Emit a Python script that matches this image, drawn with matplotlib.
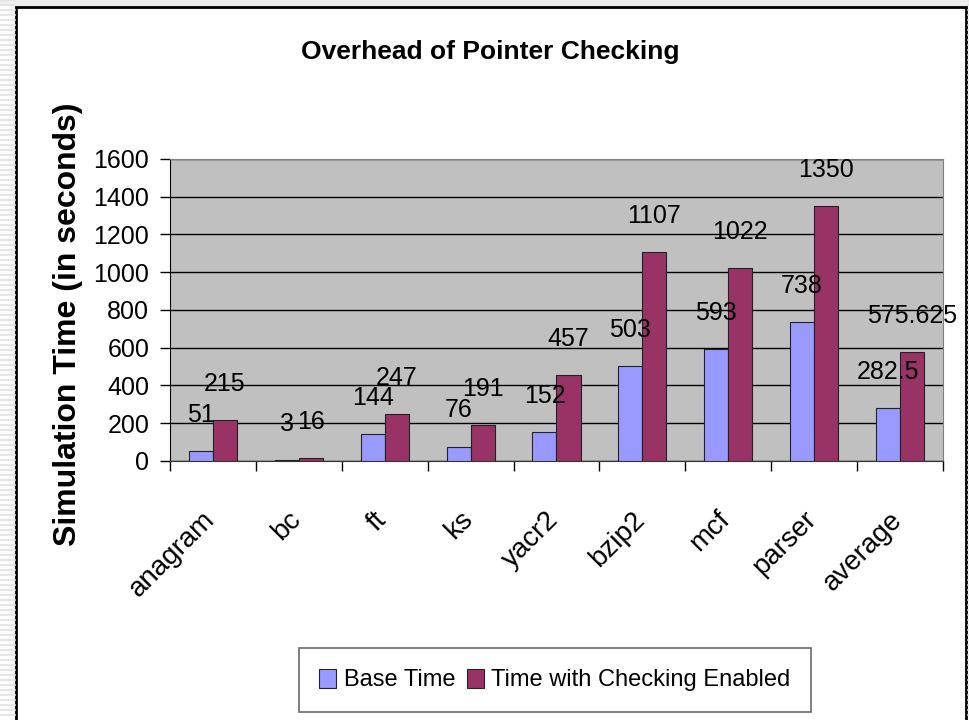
import numpy as np
import matplotlib
matplotlib.use("Agg")
import matplotlib.pyplot as plt
from matplotlib.lines import Line2D
from matplotlib.patches import Rectangle, Patch
from matplotlib.transforms import ScaledTranslation

categories = ["anagram", "bc", "ft", "ks", "yacr2", "bzip2", "mcf", "parser", "average"]
base_time = [51, 3, 144, 76, 152, 503, 593, 738, 282.5]
check_time = [215, 16, 247, 191, 457, 1107, 1022, 1350, 575.625]
base_labels = ["51", "3", "144", "76", "152", "503", "593", "738", "282.5"]
check_labels = ["215", "16", "247", "191", "457", "1107", "1022", "1350", "575.625"]
y_ticks = [0, 200, 400, 600, 800, 1000, 1200, 1400, 1600]

plt.rcParams["font.family"] = ["Liberation Sans", "DejaVu Sans"]

W, H = 970, 720
fig = plt.figure(figsize=(W / 100, H / 100), dpi=100)
fig.patch.set_facecolor("white")

# slide decoration: striped edges and black frame
for yy in np.arange(0, H, 5):
    fig.add_artist(Line2D([0, 15 / W], [1 - yy / H, 1 - yy / H], color="#e2e2e2", lw=1.2))
    fig.add_artist(Line2D([968 / W, 1], [1 - yy / H, 1 - yy / H], color="#e2e2e2", lw=1.2))
fig.add_artist(Rectangle((0, 1 - 6 / H), 1, 6 / H, transform=fig.transFigure,
                         facecolor="#eeeeee", edgecolor="none"))
fig.add_artist(Rectangle((16 / W, -0.01), (966 - 16) / W, 1.01 - 7 / H,
                         transform=fig.transFigure, facecolor="white",
                         edgecolor="black", lw=2, zorder=0.5))

ax = fig.add_axes([170 / W, 1 - 461 / H, (943 - 170) / W, (461 - 159) / H])
ax.set_facecolor("#c0c0c0")
ax.set_zorder(2)

x = np.arange(len(categories))
bw = 0.28
ax.bar(x - bw / 2, base_time, bw, color="#9999ff", edgecolor="#222222", lw=0.8, zorder=3)
ax.bar(x + bw / 2, check_time, bw, color="#993366", edgecolor="#222222", lw=0.8, zorder=3)

for xi, v, s in zip(x - bw / 2, base_time, base_labels):
    ax.annotate(s, (xi, v), xytext=(0, 21), textcoords="offset points",
                ha="center", va="baseline", fontsize=18, zorder=4)
for xi, v, s in zip(x + bw / 2, check_time, check_labels):
    ax.annotate(s, (xi, v), xytext=(0, 21), textcoords="offset points",
                ha="center", va="baseline", fontsize=18, zorder=4,
                annotation_clip=False)

ax.set_xlim(-0.5, len(categories) - 0.5)
ax.set_ylim(0, 1600)
ax.set_yticks(y_ticks)
ax.set_yticklabels([str(t) for t in y_ticks], fontsize=18)
ax.yaxis.grid(True, color="black", lw=1)
ax.set_axisbelow(True)
ax.tick_params(axis="y", direction="out", length=7, width=1, pad=8)

ax.set_xticks(x)
ax.set_xticklabels(categories, rotation=45, ha="right", va="baseline",
                   rotation_mode="anchor", fontsize=20)
ax.tick_params(axis="x", length=0, pad=43)
shift = ScaledTranslation(3 / 100, 0, fig.dpi_scale_trans)
for lbl in ax.get_xticklabels():
    lbl.set_transform(lbl.get_transform() + shift)
ax.set_xticks(np.arange(-0.5, len(categories)), minor=True)
ax.tick_params(axis="x", which="minor", direction="out", length=7, width=1)

for side in ["top", "right"]:
    ax.spines[side].set_color("#808080")
ax.spines["left"].set_color("black")
ax.spines["bottom"].set_color("#333333")

fig.text(490 / W, 1 - 52 / H, "Overhead of Pointer Checking", ha="center", va="center",
         fontsize=19, fontweight="bold")
fig.text(68 / W, 1 - 324 / H, "Simulation Time (in seconds)", rotation=90,
         ha="center", va="center", fontsize=23, fontweight="bold")

handles = [Patch(facecolor="#9999ff", edgecolor="#222222", lw=0.8),
           Patch(facecolor="#993366", edgecolor="#222222", lw=0.8)]
leg = fig.legend(handles, ["Base Time", "Time with Checking Enabled"], loc="center",
                 bbox_to_anchor=(555 / W, 1 - 680 / H), ncol=2, fancybox=False,
                 edgecolor="#444444", handlelength=0.7, handleheight=0.9,
                 handletextpad=0.33, columnspacing=0.5, borderpad=0.85,
                 prop={"size": 17})
leg.get_frame().set_linewidth(1.2)

fig.savefig("out.png", dpi=100)
